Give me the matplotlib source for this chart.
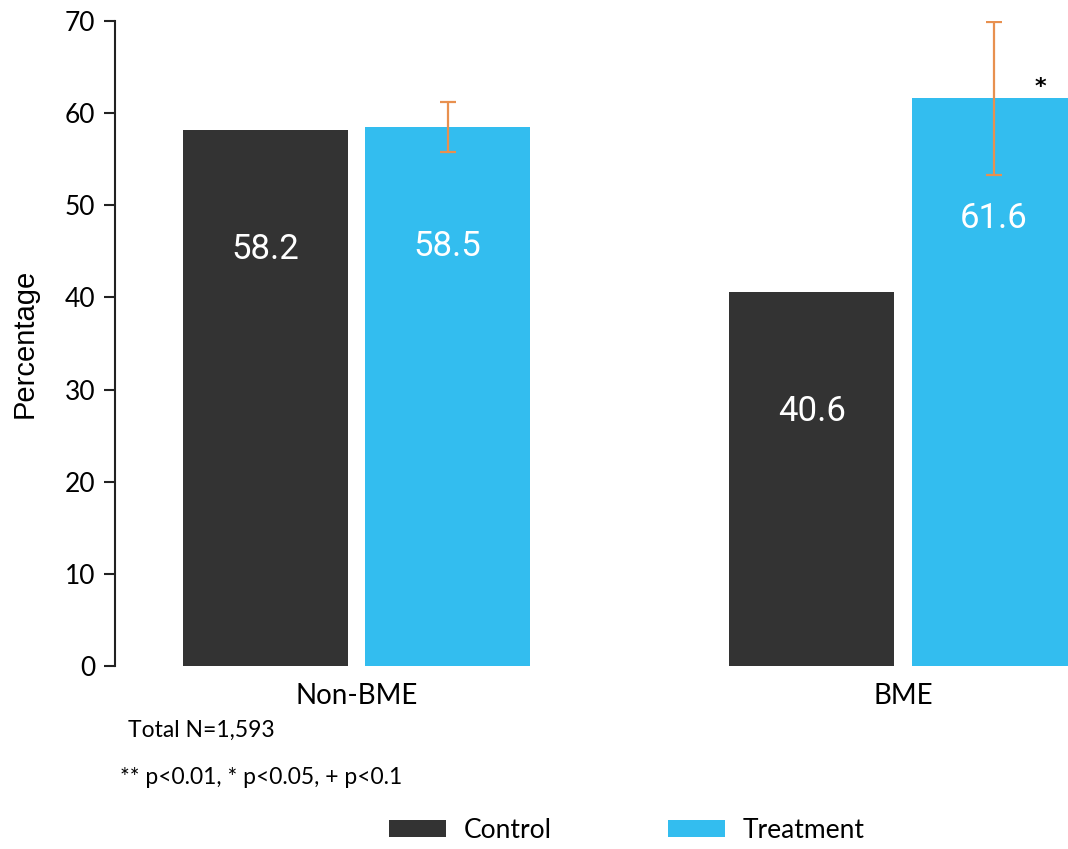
import numpy as np
import matplotlib
matplotlib.use('Agg')
import matplotlib.pyplot as plt

# данные
groups = ['Non-BME', 'BME']
control = [58.2, 40.6]
treatment = [58.5, 61.6]
treat_err = [2.7, 8.3]
stars = ['', '*']
yticks = [0, 10, 20, 30, 40, 50, 60, 70]

c_control = '#333333'
c_treat = '#33BDEF'
c_err = '#E8904F'

plt.rcParams['font.family'] = ['Lato', 'DejaVu Sans']

fig = plt.figure(figsize=(10.68, 8.49), dpi=100)
ax = fig.add_axes([115/1068, 183/849, 953/1068, 645/849])

x = np.arange(len(groups))
w = 0.302
off = 1/6

ax.bar(x - off, control, w, color=c_control, label='Control')
ax.bar(x + off, treatment, w, color=c_treat, label='Treatment')
ax.errorbar(x + off, treatment, yerr=treat_err, fmt='none', ecolor=c_err,
            elinewidth=1.6, capsize=6, capthick=1.6)

# подписи значений внутри столбцов
for i in range(len(groups)):
    ax.text(x[i] - off, control[i] - 13, f'{control[i]:.1f}', color='white',
            ha='center', va='center', fontsize=25, family='Roboto')
    ax.text(x[i] + off, treatment[i] - 13, f'{treatment[i]:.1f}', color='white',
            ha='center', va='center', fontsize=25, family='Roboto')
    if stars[i]:
        ax.text(x[i] + off + 0.084, treatment[i] + 0.2, stars[i], ha='center',
                va='bottom', fontsize=16, fontweight='bold', family='DejaVu Sans')

ax.set_xlim(-0.442, 1.302)
ax.set_ylim(0, 70)
ax.set_yticks(yticks)
ax.set_xticks(x)
ax.set_xticklabels(groups, fontsize=20)
ax.tick_params(axis='x', length=0, pad=12)
ax.tick_params(axis='y', labelsize=19, length=8, width=1.5, pad=6, color='#222222')
for s in ['top', 'right', 'bottom']:
    ax.spines[s].set_visible(False)
ax.spines['left'].set_linewidth(1.5)
ax.spines['left'].set_color('#222222')

fig.text(25/1068, 1 - 343/849, 'Percentage', rotation=90, ha='center', va='center',
         fontsize=21, family='Liberation Sans')
fig.text(128/1068, 1 - 730/849, 'Total N=1,593', ha='left', va='center', fontsize=16.5)
fig.text(120/1068, 1 - 778/849, '** p<0.01, * p<0.05, + p<0.1', ha='left', va='center',
         fontsize=16.5)

fig.legend(loc='center', bbox_to_anchor=(626.5/1068, 1 - 830/849), ncol=2,
           frameon=False, fontsize=19, handlelength=2.16, handleheight=0.6,
           handletextpad=0.68, columnspacing=4.4)

fig.savefig('out.png', dpi=100)
